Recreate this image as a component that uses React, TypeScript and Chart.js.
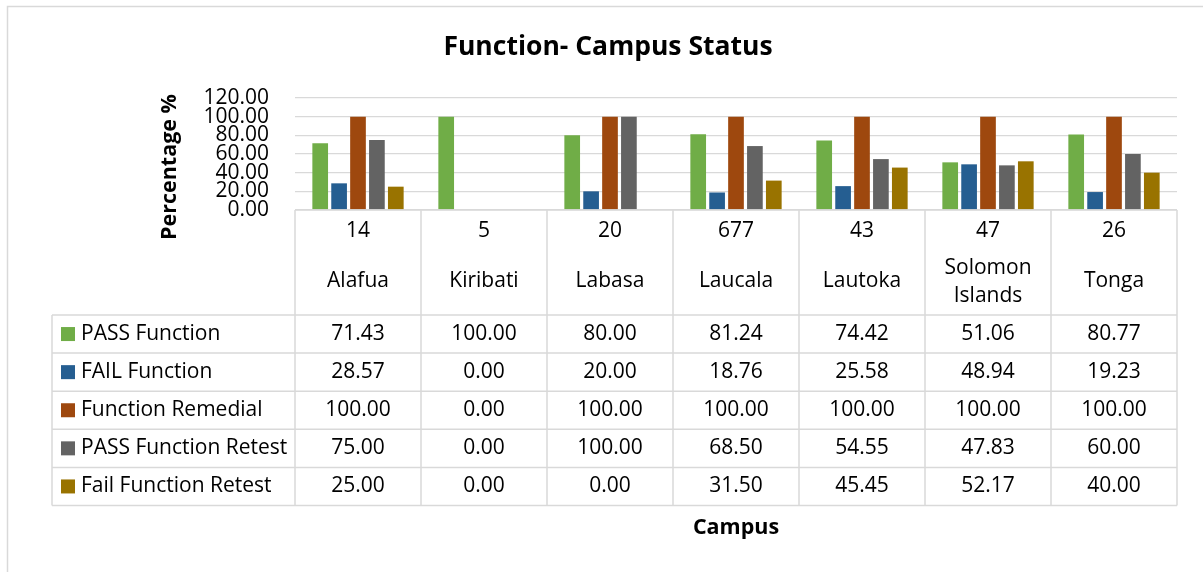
import React, { useEffect, useRef } from "react";
import { Chart, registerables } from "chart.js";

Chart.register(...registerables);

const campuses = ["Alafua", "Kiribati", "Labasa", "Laucala", "Lautoka", "Solomon Islands", "Tonga"];
const campusLines = [["Alafua"], ["Kiribati"], ["Labasa"], ["Laucala"], ["Lautoka"], ["Solomon", "Islands"], ["Tonga"]];
const counts = ["14", "5", "20", "677", "43", "47", "26"];

const seriesNames = ["PASS Function", "FAIL Function", "Function Remedial", "PASS Function Retest", "Fail Function Retest"];
const passFunction = [71.43, 100.0, 80.0, 81.24, 74.42, 51.06, 80.77];
const failFunction = [28.57, 0.0, 20.0, 18.76, 25.58, 48.94, 19.23];
const functionRemedial = [100.0, 0.0, 100.0, 100.0, 100.0, 100.0, 100.0];
const passFunctionRetest = [75.0, 0.0, 100.0, 68.5, 54.55, 47.83, 60.0];
const failFunctionRetest = [25.0, 0.0, 0.0, 31.5, 45.45, 52.17, 40.0];
const seriesColors = ["#70AD47", "#255E91", "#9E480E", "#636363", "#997300"];

const yMin = 0;
const yMax = 120;
const yStep = 20;

const titleText = "Function- Campus Status";
const yTitleText = "Percentage %";
const xTitleText = "Campus";

const FONT = "'Open Sans', Lato, sans-serif";
const GRID = "#d9d9d9";
const TEXT_SIZE = 21;

const allSeries = [passFunction, failFunction, functionRemedial, passFunctionRetest, failFunctionRetest];

const tablePlugin = {
  id: "dataTable",
  beforeDraw(chart: any) {
    const ctx = chart.ctx;
    ctx.save();
    ctx.fillStyle = "#ffffff";
    ctx.fillRect(0, 0, chart.width, chart.height);
    ctx.strokeStyle = GRID;
    ctx.lineWidth = 1.5;
    ctx.strokeRect(7.5, 6.5, chart.width + 20, chart.height + 20);
    ctx.restore();
  },
  afterDraw(chart: any) {
    const { ctx, chartArea } = chart;
    const x = chart.scales.x;
    const n = campuses.length;
    const half = (x.getPixelForValue(1) - x.getPixelForValue(0)) / 2;
    const left = x.getPixelForValue(0) - half;
    const right = x.getPixelForValue(n - 1) + half;
    const top = chartArea.bottom;
    const headerBottom = top + 105;
    const rowH = 38.1;
    const tableLeft = 52;
    const tableBottom = headerBottom + rowH * seriesNames.length;

    ctx.save();
    ctx.strokeStyle = GRID;
    ctx.lineWidth = 1.5;
    ctx.beginPath();
    ctx.moveTo(left, top);
    ctx.lineTo(right, top);
    for (let i = 0; i <= n; i++) {
      const xx = left + (right - left) * (i / n);
      ctx.moveTo(xx, top);
      ctx.lineTo(xx, tableBottom);
    }
    for (let r = 0; r <= seriesNames.length; r++) {
      const yy = headerBottom + rowH * r;
      ctx.moveTo(tableLeft, yy);
      ctx.lineTo(right, yy);
    }
    ctx.moveTo(tableLeft, headerBottom);
    ctx.lineTo(tableLeft, tableBottom);
    ctx.stroke();

    ctx.fillStyle = "#000";
    ctx.textAlign = "center";
    ctx.textBaseline = "middle";
    ctx.font = `${TEXT_SIZE}px ${FONT}`;
    for (let i = 0; i < n; i++) {
      const cx = x.getPixelForValue(i);
      ctx.fillText(counts[i], cx, top + 21);
      const lines = campusLines[i];
      if (lines.length === 1) {
        ctx.fillText(lines[0], cx, top + 71);
      } else {
        ctx.fillText(lines[0], cx, top + 58);
        ctx.fillText(lines[1], cx, top + 86);
      }
      for (let r = 0; r < allSeries.length; r++) {
        ctx.fillText(allSeries[r][i].toFixed(2), cx, headerBottom + rowH * r + rowH / 2);
      }
    }
    ctx.textAlign = "left";
    for (let r = 0; r < seriesNames.length; r++) {
      const cy = headerBottom + rowH * r + rowH / 2;
      ctx.fillStyle = seriesColors[r];
      ctx.fillRect(61, cy - 7, 14, 14);
      ctx.fillStyle = "#000";
      ctx.fillText(seriesNames[r], 81, cy);
    }

    ctx.textAlign = "center";
    ctx.font = `bold 26.5px ${FONT}`;
    ctx.fillText(titleText, 608, 47);
    ctx.font = `bold 21.5px ${FONT}`;
    ctx.fillText(xTitleText, (left + right) / 2, 528);
    ctx.translate(170, 167);
    ctx.rotate(-Math.PI / 2);
    ctx.fillText(yTitleText, 0, 0);
    ctx.restore();
  },
};

export default function App() {
  const ref = useRef<HTMLCanvasElement | null>(null);
  useEffect(() => {
    if (!ref.current) return;
    const chart = new Chart(ref.current, {
      type: "bar",
      data: {
        labels: campuses,
        datasets: seriesNames.map((name, i) => ({
          label: name,
          data: allSeries[i],
          backgroundColor: seriesColors[i],
          borderWidth: 0,
          categoryPercentage: 0.75,
          barPercentage: 0.83,
        })),
      },
      options: {
        responsive: false,
        animation: false,
        layout: { padding: { left: 150, right: 26, top: 98, bottom: 362 } },
        plugins: {
          legend: { display: false },
          tooltip: { enabled: false },
          title: { display: false },
        },
        scales: {
          x: {
            display: false,
          },
          y: {
            min: yMin,
            max: yMax,
            afterFit: (s: any) => {
              s.width = 145;
            },
            border: { display: false },
            grid: { color: GRID, lineWidth: 1.3, drawTicks: false },
            ticks: {
              stepSize: yStep,
              autoSkip: false,
              padding: 26,
              color: "#000",
              font: { family: FONT, size: TEXT_SIZE, lineHeight: 0.85 },
              callback: (v: any) => Number(v).toFixed(2),
            },
          },
        },
      },
      plugins: [tablePlugin],
    });
    return () => chart.destroy();
  }, []);
  return (
    <div style={{ position: "absolute", left: 0, top: 0, width: 1203, height: 572 }}>
      <canvas ref={ref} width={1203} height={572} />
    </div>
  );
}
